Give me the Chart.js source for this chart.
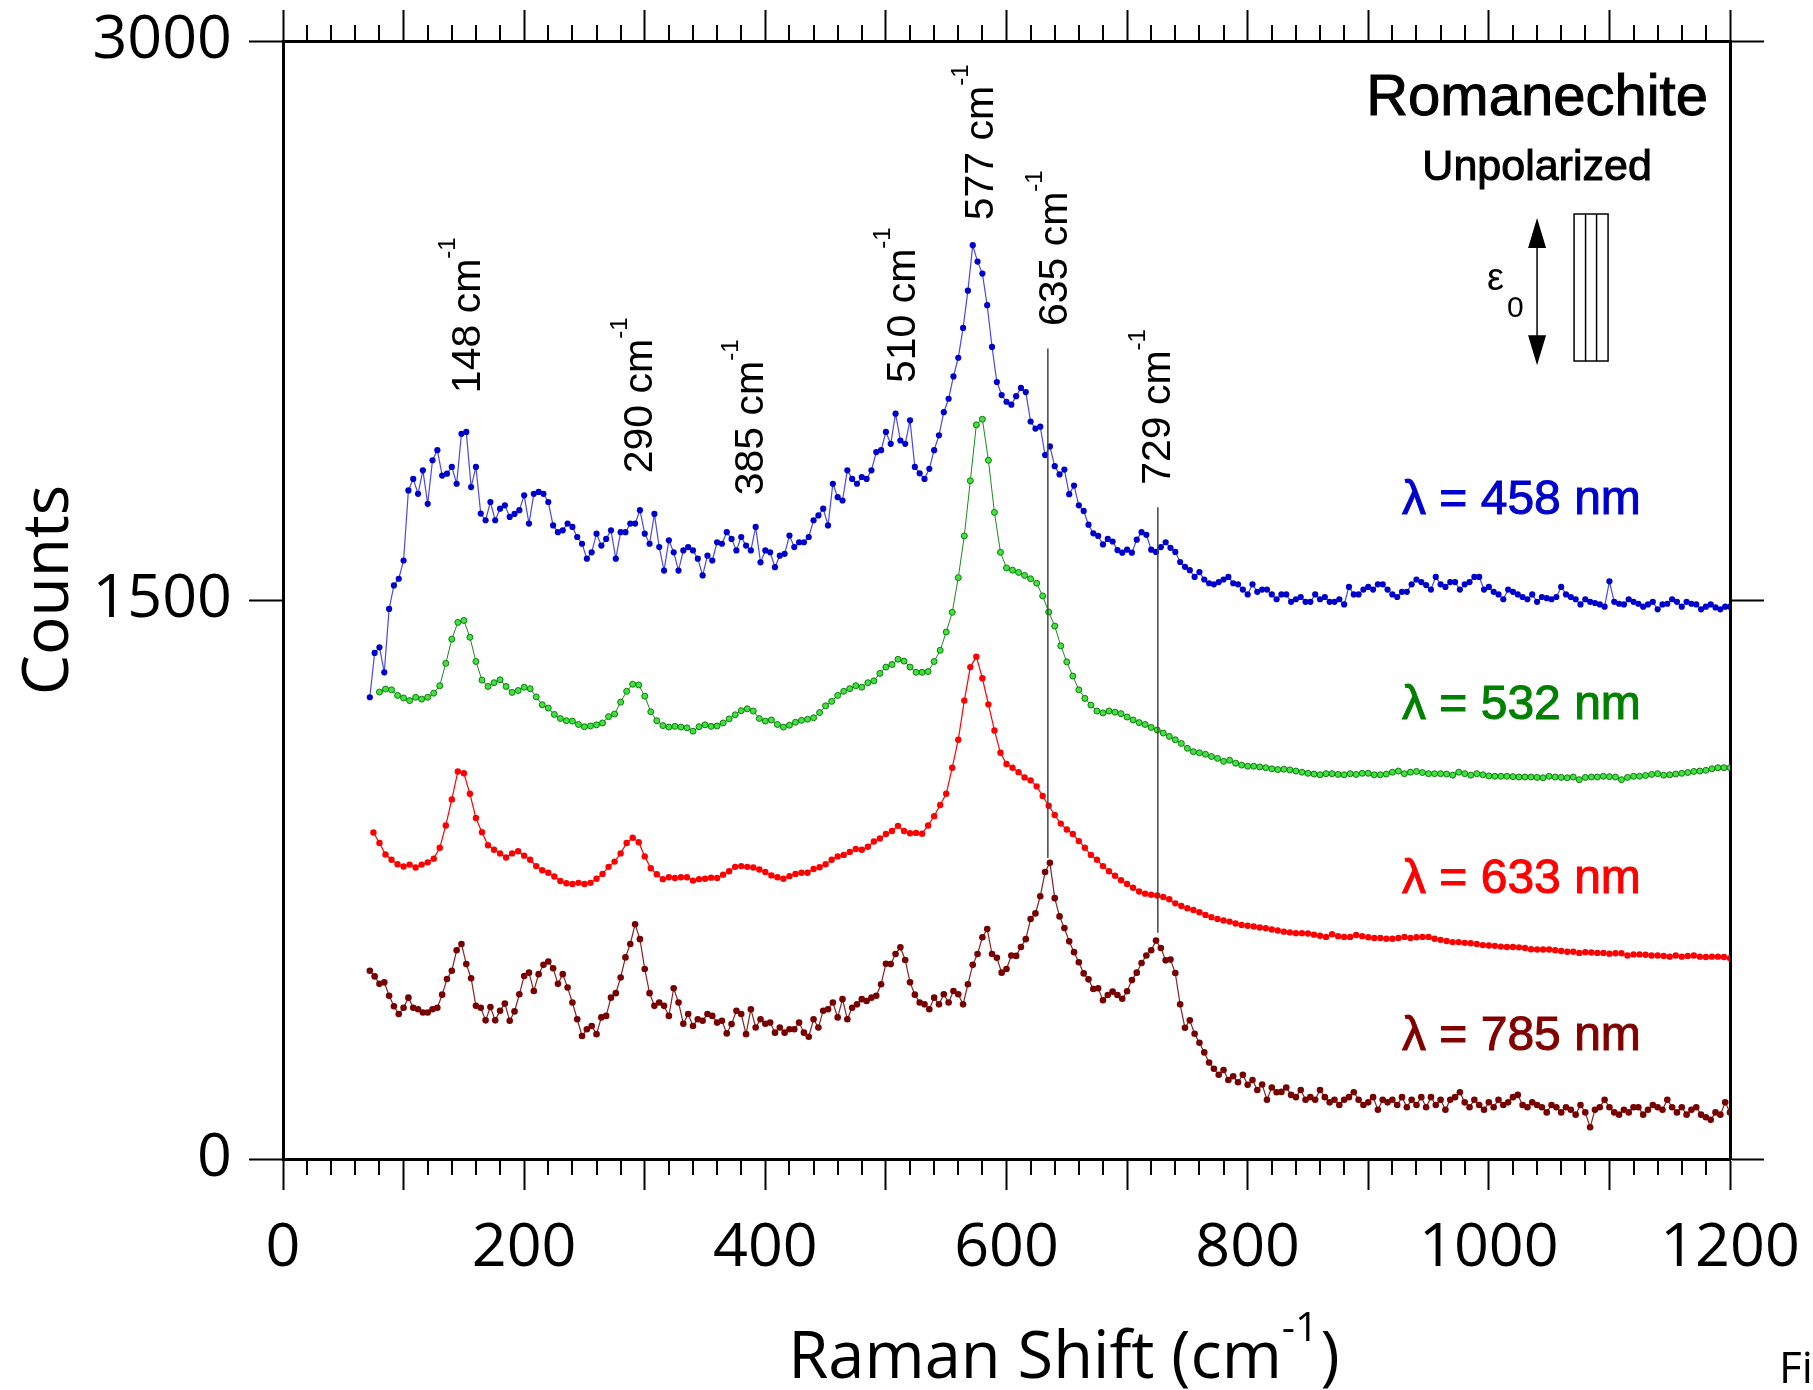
<!DOCTYPE html>
<html>
<head>
<meta charset="utf-8">
<title>Romanechite Raman spectra</title>
<script src="https://cdn.jsdelivr.net/npm/chart.js@4.4.1/dist/chart.umd.min.js"></script>
<style>
  html, body { margin: 0; padding: 0; background: #fff; }
  #wrap { width: 1813px; height: 1390px; }
</style>
</head>
<body>
<div id="wrap"><canvas id="chart" width="1813" height="1390"></canvas></div>
<script>
// Raman shift sampling (cm-1): 4 cm-1 for 458/785 nm, 5 cm-1 for 532/633 nm
const shiftFine = [
  72, 76, 80, 84, 88, 92, 96, 100, 104, 108,
  112, 116, 120, 124, 128, 132, 136, 140, 144, 148,
  152, 156, 160, 164, 168, 172, 176, 180, 184, 188,
  192, 196, 200, 204, 208, 212, 216, 220, 224, 228,
  232, 236, 240, 244, 248, 252, 256, 260, 264, 268,
  272, 276, 280, 284, 288, 292, 296, 300, 304, 308,
  312, 316, 320, 324, 328, 332, 336, 340, 344, 348,
  352, 356, 360, 364, 368, 372, 376, 380, 384, 388,
  392, 396, 400, 404, 408, 412, 416, 420, 424, 428,
  432, 436, 440, 444, 448, 452, 456, 460, 464, 468,
  472, 476, 480, 484, 488, 492, 496, 500, 504, 508,
  512, 516, 520, 524, 528, 532, 536, 540, 544, 548,
  552, 556, 560, 564, 568, 572, 576, 580, 584, 588,
  592, 596, 600, 604, 608, 612, 616, 620, 624, 628,
  632, 636, 640, 644, 648, 652, 656, 660, 664, 668,
  672, 676, 680, 684, 688, 692, 696, 700, 704, 708,
  712, 716, 720, 724, 728, 732, 736, 740, 744, 748,
  752, 756, 760, 764, 768, 772, 776, 780, 784, 788,
  792, 796, 800, 804, 808, 812, 816, 820, 824, 828,
  832, 836, 840, 844, 848, 852, 856, 860, 864, 868,
  872, 876, 880, 884, 888, 892, 896, 900, 904, 908,
  912, 916, 920, 924, 928, 932, 936, 940, 944, 948,
  952, 956, 960, 964, 968, 972, 976, 980, 984, 988,
  992, 996, 1000, 1004, 1008, 1012, 1016, 1020, 1024, 1028,
  1032, 1036, 1040, 1044, 1048, 1052, 1056, 1060, 1064, 1068,
  1072, 1076, 1080, 1084, 1088, 1092, 1096, 1100, 1104, 1108,
  1112, 1116, 1120, 1124, 1128, 1132, 1136, 1140, 1144, 1148,
  1152, 1156, 1160, 1164, 1168, 1172, 1176, 1180, 1184, 1188,
  1192, 1196, 1200
];

const shiftCoarse = [
  75, 80, 85, 90, 95, 100, 105, 110, 115, 120,
  125, 130, 135, 140, 145, 150, 155, 160, 165, 170,
  175, 180, 185, 190, 195, 200, 205, 210, 215, 220,
  225, 230, 235, 240, 245, 250, 255, 260, 265, 270,
  275, 280, 285, 290, 295, 300, 305, 310, 315, 320,
  325, 330, 335, 340, 345, 350, 355, 360, 365, 370,
  375, 380, 385, 390, 395, 400, 405, 410, 415, 420,
  425, 430, 435, 440, 445, 450, 455, 460, 465, 470,
  475, 480, 485, 490, 495, 500, 505, 510, 515, 520,
  525, 530, 535, 540, 545, 550, 555, 560, 565, 570,
  575, 580, 585, 590, 595, 600, 605, 610, 615, 620,
  625, 630, 635, 640, 645, 650, 655, 660, 665, 670,
  675, 680, 685, 690, 695, 700, 705, 710, 715, 720,
  725, 730, 735, 740, 745, 750, 755, 760, 765, 770,
  775, 780, 785, 790, 795, 800, 805, 810, 815, 820,
  825, 830, 835, 840, 845, 850, 855, 860, 865, 870,
  875, 880, 885, 890, 895, 900, 905, 910, 915, 920,
  925, 930, 935, 940, 945, 950, 955, 960, 965, 970,
  975, 980, 985, 990, 995, 1000, 1005, 1010, 1015, 1020,
  1025, 1030, 1035, 1040, 1045, 1050, 1055, 1060, 1065, 1070,
  1075, 1080, 1085, 1090, 1095, 1100, 1105, 1110, 1115, 1120,
  1125, 1130, 1135, 1140, 1145, 1150, 1155, 1160, 1165, 1170,
  1175, 1180, 1185, 1190, 1195, 1200
];

// counts, lambda = 458 nm (on shiftFine)
const counts458 = [
  1239, 1358, 1373, 1306, 1476, 1539, 1557, 1606, 1794, 1825,
  1785, 1848, 1758, 1875, 1902, 1834, 1839, 1857, 1812, 1946,
  1951, 1803, 1857, 1732, 1714, 1763, 1714, 1745, 1754, 1723,
  1731, 1741, 1781, 1705, 1785, 1790, 1785, 1763, 1700, 1682,
  1687, 1705, 1696, 1669, 1651, 1611, 1628, 1678, 1646, 1664,
  1687, 1611, 1682, 1682, 1705, 1705, 1741, 1678, 1651, 1731,
  1642, 1579, 1660, 1628, 1579, 1633, 1642, 1633, 1611, 1566,
  1619, 1606, 1655, 1651, 1682, 1664, 1633, 1669, 1646, 1633,
  1696, 1601, 1633, 1628, 1588, 1619, 1624, 1673, 1642, 1655,
  1655, 1669, 1714, 1727, 1745, 1700, 1812, 1776, 1767, 1848,
  1825, 1812, 1830, 1825, 1848, 1897, 1902, 1951, 1919, 2000,
  1928, 1919, 1982, 1857, 1840, 1825, 1852, 1902, 1942, 2004,
  2040, 2100, 2150, 2230, 2330, 2452, 2408, 2376, 2291, 2179,
  2085, 2050, 2032, 2024, 2047, 2069, 2058, 1979, 1960, 1965,
  1889, 1912, 1859, 1837, 1850, 1784, 1807, 1754, 1739, 1702,
  1679, 1672, 1649, 1664, 1657, 1634, 1627, 1635, 1627, 1662,
  1682, 1675, 1635, 1629, 1642, 1655, 1640, 1629, 1602, 1589,
  1580, 1562, 1575, 1555, 1545, 1542, 1548, 1555, 1562, 1545,
  1542, 1528, 1515, 1542, 1522, 1528, 1528, 1515, 1502, 1515,
  1515, 1495, 1502, 1508, 1495, 1495, 1515, 1502, 1508, 1495,
  1495, 1502, 1488, 1535, 1515, 1515, 1528, 1535, 1528, 1542,
  1542, 1528, 1515, 1508, 1522, 1522, 1542, 1555, 1548, 1540,
  1528, 1562, 1542, 1535, 1548, 1548, 1528, 1542, 1548, 1562,
  1562, 1528, 1535, 1522, 1515, 1502, 1528, 1522, 1515, 1508,
  1502, 1515, 1495, 1508, 1505, 1502, 1508, 1535, 1515, 1508,
  1502, 1488, 1502, 1495, 1492, 1488, 1482, 1550, 1495, 1490,
  1488, 1502, 1495, 1490, 1482, 1488, 1495, 1475, 1488, 1490,
  1502, 1495, 1482, 1495, 1490, 1488, 1475, 1482, 1488, 1480,
  1475, 1482, 1482
];

// counts, lambda = 532 nm (on shiftCoarse, no reading at 75)
const counts532 = [
  null, 1253, 1261, 1259, 1244, 1237, 1230, 1239, 1234, 1239,
  1250, 1270, 1330, 1395, 1440, 1445, 1400, 1335, 1285, 1268,
  1278, 1286, 1268, 1252, 1257, 1266, 1262, 1240, 1219, 1210,
  1193, 1182, 1176, 1175, 1166, 1160, 1162, 1165, 1170, 1187,
  1194, 1226, 1255, 1274, 1272, 1242, 1200, 1176, 1163, 1159,
  1161, 1159, 1157, 1148, 1160, 1165, 1161, 1162, 1170, 1181,
  1192, 1203, 1208, 1202, 1182, 1175, 1178, 1166, 1159, 1164,
  1172, 1177, 1180, 1184, 1198, 1216, 1228, 1244, 1255, 1262,
  1270, 1266, 1278, 1283, 1303, 1320, 1327, 1341, 1336, 1320,
  1306, 1306, 1308, 1335, 1365, 1414, 1467, 1560, 1672, 1820,
  1970, 1985, 1875, 1735, 1628, 1586, 1580, 1574, 1566, 1557,
  1545, 1511, 1468, 1430, 1377, 1334, 1296, 1259, 1236, 1218,
  1202, 1197, 1202, 1199, 1195, 1186, 1178, 1171, 1166, 1158,
  1151, 1143, 1134, 1125, 1115, 1102, 1093, 1090, 1086, 1080,
  1075, 1067, 1070, 1062, 1057, 1054, 1054, 1052, 1050, 1047,
  1045, 1046, 1044, 1041, 1038, 1035, 1033, 1031, 1034, 1034,
  1032, 1031, 1034, 1032, 1035, 1035, 1031, 1031, 1033, 1038,
  1041, 1034, 1038, 1040, 1037, 1034, 1034, 1034, 1033, 1030,
  1038, 1034, 1030, 1034, 1031, 1028, 1027, 1027, 1027, 1026,
  1025, 1025, 1025, 1024, 1023, 1027, 1025, 1024, 1023, 1025,
  1018, 1024, 1025, 1025, 1027, 1026, 1025, 1018, 1024, 1027,
  1027, 1029, 1032, 1034, 1030, 1031, 1033, 1035, 1037, 1040,
  1041, 1043, 1047, 1050, 1050, 1050
];

// counts, lambda = 633 nm (on shiftCoarse)
const counts633 = [
  876, 848, 817, 803, 791, 785, 790, 782, 790, 796,
  806, 835, 895, 965, 1040, 1035, 980, 915, 877, 842,
  830, 820, 809, 820, 826, 814, 803, 786, 775, 768,
  758, 746, 740, 738, 741, 738, 741, 752, 765, 784,
  798, 820, 848, 862, 850, 812, 780, 764, 751, 756,
  754, 756, 756, 747, 751, 752, 755, 754, 763, 772,
  784, 786, 784, 782, 777, 770, 761, 756, 752, 759,
  765, 768, 768, 778, 783, 791, 803, 812, 816, 824,
  832, 830, 838, 852, 860, 872, 880, 894, 880, 874,
  875, 873, 895, 920, 950, 980, 1050, 1125, 1230, 1320,
  1348, 1290, 1220, 1150, 1090, 1060, 1050, 1038, 1024, 1016,
  1000, 974, 948, 923, 900, 884, 872, 853, 835, 816,
  803, 786, 772, 760, 748, 738, 728, 718, 712, 709,
  707, 703, 697, 686, 679, 673, 668, 662, 655, 649,
  644, 640, 637, 632, 628, 626, 624, 621, 619, 616,
  613, 610, 608, 606, 606, 605, 602, 599, 596, 603,
  598, 596, 596, 601, 598, 595, 593, 593, 591, 591,
  593, 596, 593, 595, 596, 596, 591, 588, 585, 582,
  582, 580, 579, 577, 574, 573, 572, 570, 569, 569,
  568, 566, 563, 562, 562, 562, 560, 558, 556, 556,
  553, 555, 554, 553, 553, 551, 552, 552, 546, 549,
  549, 548, 546, 546, 545, 543, 546, 543, 545, 546,
  543, 542, 543, 543, 542, 539
];

// counts, lambda = 785 nm (on shiftFine)
const counts785 = [
  505, 490, 470, 474, 438, 410, 389, 406, 433, 406,
  402, 393, 393, 402, 406, 441, 483, 505, 560, 577,
  523, 485, 411, 406, 372, 408, 372, 398, 417, 371,
  396, 442, 491, 500, 451, 496, 521, 530, 512, 470,
  496, 460, 420, 375, 330, 348, 357, 335, 380, 384,
  433, 445, 487, 541, 577, 630, 590, 510, 445, 411,
  420, 411, 384, 458, 420, 363, 389, 357, 375, 371,
  389, 384, 366, 371, 337, 362, 398, 389, 335, 402,
  353, 375, 363, 366, 339, 353, 339, 348, 348, 366,
  339, 328, 375, 353, 398, 402, 420, 380, 429, 375,
  406, 415, 429, 424, 433, 438, 469, 524, 523, 550,
  568, 534, 474, 441, 420, 415, 402, 433, 415, 442,
  420, 451, 442, 415, 469, 521, 550, 595, 617, 550,
  540, 500, 510, 546, 545, 569, 590, 644, 659, 705,
  770, 795, 700, 651, 620, 584, 555, 528, 498, 482,
  456, 458, 426, 440, 449, 440, 430, 450, 480, 500,
  526, 546, 560, 586, 566, 533, 535, 499, 415, 352,
  372, 336, 312, 286, 259, 242, 226, 239, 212, 222,
  206, 226, 199, 212, 185, 200, 159, 192, 179, 180,
  192, 172, 166, 185, 159, 166, 159, 185, 166, 152,
  159, 145, 159, 166, 179, 159, 145, 152, 166, 132,
  159, 152, 159, 145, 166, 139, 159, 145, 166, 139,
  166, 145, 159, 132, 159, 166, 179, 152, 139, 159,
  145, 132, 152, 139, 159, 145, 152, 166, 172, 145,
  139, 152, 145, 139, 125, 145, 139, 125, 139, 132,
  119, 145, 125, 85, 132, 139, 159, 139, 125, 119,
  132, 125, 139, 139, 119, 132, 145, 139, 132, 159,
  139, 125, 139, 119, 132, 139, 119, 112, 105, 125,
  119, 152, 125
];

const xTickLabels = [0, 200, 400, 600, 800, 1000, 1200];
const yTickLabels = [0, 1500, 3000];
const laserNames = ['λ = 458 nm', 'λ = 532 nm', 'λ = 633 nm', 'λ = 785 nm'];
const peakNames = ['148', '290', '385', '510', '577', '635', '729'];

// annotation anchors in data units
const laserLabelAt = [[928, 1730], [928, 1182], [928, 714], [928, 293]];
const peakLabelAt = [[163, 2055], [306, 1840], [398, 1781], [524, 2082], [588.5, 2519], [650, 2235], [736, 1809]];
const markerLines = [[634.3, 2175, 808], [725.5, 1749, 607]];

const ink = '#000';
const axisFont = "'Open Sans', 'Noto Sans', sans-serif";
const textFont = "'Liberation Sans', Arial, sans-serif";
const laserColors = ['#0000cc', '#008000', '#ff0000', '#800000'];

function pairs(xs, ys) {
  return ys.map((v, i) => ({ x: xs[i], y: v })).filter(p => p.y !== null);
}

function supText(ctx, x, y, main, sup, tail, family, size, supSize, raise) {
  ctx.font = size + 'px ' + family;
  ctx.fillText(main, x, y);
  let w = ctx.measureText(main).width;
  ctx.font = supSize + 'px ' + family;
  ctx.fillText(sup, x + w, y - raise);
  w += ctx.measureText(sup).width;
  if (tail) {
    ctx.font = size + 'px ' + family;
    ctx.fillText(tail, x + w + 2, y);
  }
}

function heavyText(ctx, t, x, y) {
  ctx.fillText(t, x, y);
  ctx.strokeText(t, x, y);
}

const decor = {
  id: 'decor',
  afterDraw(chart) {
    const { ctx, chartArea: a } = chart;
    const xs = chart.scales.x, ys = chart.scales.y;
    ctx.save();

    // minor ticks on bottom and top axes
    ctx.strokeStyle = ink;
    ctx.lineWidth = 2;
    ctx.beginPath();
    for (let v = 20; v < 1200; v += 20) {
      if (v % 100 === 0) continue;
      const px = Math.round(xs.getPixelForValue(v));
      ctx.moveTo(px, a.bottom);
      ctx.lineTo(px, a.bottom + 16);
      ctx.moveTo(px, a.top);
      ctx.lineTo(px, a.top - 16);
    }
    ctx.stroke();

    // peak marker lines
    ctx.strokeStyle = '#444';
    ctx.lineWidth = 1.5;
    markerLines.forEach(([s, top, bottom]) => {
      const px = xs.getPixelForValue(s);
      ctx.beginPath();
      ctx.moveTo(px, ys.getPixelForValue(top));
      ctx.lineTo(px, ys.getPixelForValue(bottom));
      ctx.stroke();
    });

    // rotated peak labels
    ctx.fillStyle = ink;
    ctx.textAlign = 'left';
    ctx.textBaseline = 'alphabetic';
    peakNames.forEach((p, i) => {
      const [px, py] = peakLabelAt[i];
      ctx.save();
      ctx.translate(xs.getPixelForValue(px), ys.getPixelForValue(py));
      ctx.rotate(-Math.PI / 2);
      supText(ctx, 0, 0, p + ' cm', '-1', '', textFont, 41, 24, 25);
      ctx.restore();
    });

    // laser wavelength labels
    ctx.lineWidth = 1;
    ctx.font = '48px ' + textFont;
    laserNames.forEach((t, i) => {
      const [lx, ly] = laserLabelAt[i];
      ctx.fillStyle = laserColors[i];
      ctx.strokeStyle = laserColors[i];
      heavyText(ctx, t, xs.getPixelForValue(lx), ys.getPixelForValue(ly));
    });

    // sample name and polarisation sketch
    const cx = xs.getPixelForValue(1040);
    ctx.fillStyle = ink;
    ctx.strokeStyle = ink;
    ctx.textAlign = 'center';
    ctx.font = '58px ' + textFont;
    heavyText(ctx, 'Romanechite', cx, ys.getPixelForValue(2801));
    ctx.font = '43px ' + textFont;
    heavyText(ctx, 'Unpolarized', cx, ys.getPixelForValue(2627));

    const top = ys.getPixelForValue(2525), bot = ys.getPixelForValue(2130);
    ctx.lineWidth = 1.5;
    ctx.beginPath();
    ctx.moveTo(cx, top + 20);
    ctx.lineTo(cx, bot - 20);
    ctx.stroke();
    ctx.beginPath();
    ctx.moveTo(cx, top);
    ctx.lineTo(cx - 9, top + 30);
    ctx.lineTo(cx + 9, top + 30);
    ctx.closePath();
    ctx.moveTo(cx, bot);
    ctx.lineTo(cx - 9, bot - 30);
    ctx.lineTo(cx + 9, bot - 30);
    ctx.closePath();
    ctx.fill();

    ctx.textAlign = 'left';
    ctx.font = '38px ' + textFont;
    ctx.fillText('ε', cx - 50, top + 72);
    ctx.font = '30px ' + textFont;
    ctx.fillText('0', cx - 30, top + 99);

    const rx = cx + 37, rTop = top - 4, rH = 147;
    ctx.strokeRect(rx, rTop, 34, rH);
    ctx.beginPath();
    ctx.moveTo(rx + 11.5, rTop);
    ctx.lineTo(rx + 11.5, rTop + rH);
    ctx.moveTo(rx + 22.5, rTop);
    ctx.lineTo(rx + 22.5, rTop + rH);
    ctx.stroke();

    // axis titles
    ctx.fillStyle = ink;
    ctx.textAlign = 'left';
    supText(ctx, xs.getPixelForValue(419), a.bottom + 219, 'Raman Shift (cm', '-1', ')', axisFont, 65, 41, 37);

    ctx.save();
    ctx.translate(a.left - 215, (a.top + a.bottom) / 2 - 10);
    ctx.rotate(-Math.PI / 2);
    ctx.textAlign = 'center';
    ctx.font = '64px ' + axisFont;
    ctx.fillText('Counts', 0, 0);
    ctx.restore();

    ctx.font = '44px ' + axisFont;
    ctx.fillText('Fi', 1779, 1383);

    ctx.restore();
  }
};

const tickLine = { drawOnChartArea: false, tickWidth: 2, tickColor: ink };
const frame = { color: ink, width: 3 };
const noLabel = () => '';

new Chart(document.getElementById('chart'), {
  type: 'scatter',
  data: {
    datasets: [
      {
        label: laserNames[0], data: pairs(shiftFine, counts458), showLine: true,
        borderColor: 'rgba(40, 40, 225, 0.85)', borderWidth: 1.2,
        pointRadius: 3.1, pointBackgroundColor: '#0000cc', pointBorderWidth: 0
      },
      {
        label: laserNames[1], data: pairs(shiftCoarse, counts532), showLine: true,
        borderColor: '#1b8a1b', borderWidth: 1,
        pointRadius: 3, pointBackgroundColor: '#3fe23f', pointBorderColor: '#107a10', pointBorderWidth: 1
      },
      {
        label: laserNames[2], data: pairs(shiftCoarse, counts633), showLine: true,
        borderColor: '#ff0000', borderWidth: 1.2,
        pointRadius: 3.2, pointBackgroundColor: '#ff0000', pointBorderWidth: 0
      },
      {
        label: laserNames[3], data: pairs(shiftFine, counts785), showLine: true,
        borderColor: '#8a2020', borderWidth: 1.2,
        pointRadius: 3.3, pointBackgroundColor: '#770000', pointBorderWidth: 0
      }
    ]
  },
  options: {
    responsive: false,
    animation: false,
    devicePixelRatio: 1,
    layout: { padding: 0 },
    plugins: { legend: { display: false }, tooltip: { enabled: false } },
    scales: {
      x: {
        type: 'linear', position: 'bottom', min: 0, max: 1200,
        ticks: {
          stepSize: 100, autoSkip: false, maxRotation: 0, padding: 10, color: ink,
          font: { family: axisFont, size: 61, lineHeight: 1.59 },
          callback: v => (xTickLabels.includes(v) ? String(v) : '')
        },
        grid: { ...tickLine, tickLength: 31 },
        border: frame,
        afterFit: s => { s.height = 231; }
      },
      x2: {
        type: 'linear', axis: 'x', position: 'top', min: 0, max: 1200,
        ticks: { stepSize: 100, autoSkip: false, maxRotation: 0, padding: 0, callback: noLabel },
        grid: { ...tickLine, tickLength: 31 },
        border: frame,
        afterFit: s => { s.height = 41; }
      },
      y: {
        type: 'linear', position: 'left', min: 0, max: 3000,
        ticks: {
          stepSize: 1500, autoSkip: false, padding: 17, color: ink,
          font: { family: axisFont, size: 61, lineHeight: 0.75 },
          callback: v => (yTickLabels.includes(v) ? String(v) : '')
        },
        grid: { ...tickLine, tickLength: 34 },
        border: frame,
        afterFit: s => { s.width = 283; }
      },
      y2: {
        type: 'linear', axis: 'y', position: 'right', min: 0, max: 3000,
        ticks: { stepSize: 1500, autoSkip: false, padding: 0, callback: noLabel },
        grid: { ...tickLine, tickLength: 34 },
        border: frame,
        afterFit: s => { s.width = 83; }
      }
    }
  },
  plugins: [decor]
});
</script>
</body>
</html>
